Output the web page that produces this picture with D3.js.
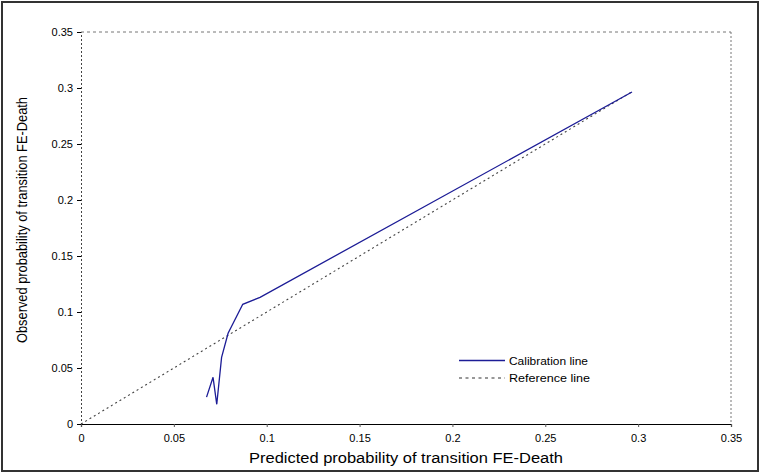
<!DOCTYPE html>
<html><head><meta charset="utf-8">
<script src="https://cdn.jsdelivr.net/npm/d3@7"></script>
<style>body{margin:0;background:#fff}svg{display:block}text{font-family:Arial,"Liberation Sans",sans-serif}</style>
</head><body><svg id="c" width="761" height="474"></svg>
<script>
const calPredicted = [0.0676, 0.0711, 0.0731, 0.0757, 0.0792, 0.0871, 0.0964, 0.2967];
const calObserved  = [0.0240, 0.0417, 0.0176, 0.0595, 0.0810, 0.1069, 0.1131, 0.2964];
const refPredicted = [0.0, 0.2967];
const refObserved  = [0.0, 0.2967];
const xTicks = [0, 0.05, 0.1, 0.15, 0.2, 0.25, 0.3, 0.35];
const yTicks = [0, 0.05, 0.1, 0.15, 0.2, 0.25, 0.3, 0.35];
const legendLabels = ["Calibration line", "Reference line"];

const svg = d3.select("#c");
const x = d3.scaleLinear().domain([0, 0.35]).range([81, 731]);
const y = d3.scaleLinear().domain([0, 0.35]).range([424, 32]);

// outer frame
svg.append("rect").attr("x",2).attr("y",2).attr("width",756).attr("height",469)
  .attr("fill","none").attr("stroke","#333").attr("stroke-width",2);

// top and right plot borders
svg.append("line").attr("x1",x(0)).attr("x2",x(0.35)).attr("y1",y(0.35)).attr("y2",y(0.35))
  .attr("stroke","#777").attr("stroke-dasharray","3,3");
svg.append("line").attr("x1",x(0.35)).attr("x2",x(0.35)).attr("y1",y(0.35)).attr("y2",y(0))
  .attr("stroke","#777").attr("stroke-dasharray","2,2");

// axes
const fmt = d => d === 0 ? "0" : String(d);
const xa = svg.append("g").attr("transform",`translate(0,${y(0)})`)
  .call(d3.axisBottom(x).tickValues(xTicks).tickFormat(fmt).tickSize(3).tickPadding(7));
xa.select(".domain").attr("stroke","#000").attr("stroke-width",1.2);
xa.selectAll("text").attr("font-size",11).attr("fill","#000");
xa.selectAll(".tick line").attr("stroke","#555");

const ya = svg.append("g").attr("transform",`translate(${x(0)},0)`)
  .call(d3.axisLeft(y).tickValues(yTicks).tickFormat(fmt).tickSize(4).tickPadding(4));
ya.select(".domain").attr("stroke","#444").attr("stroke-dasharray","2,2");
ya.selectAll("text").attr("font-size",11).attr("fill","#000");
ya.selectAll(".tick line").attr("stroke","#000");

// titles
svg.append("text").attr("x",406).attr("y",463).attr("text-anchor","middle")
  .attr("font-size",14).attr("fill","#000").attr("textLength",314).attr("lengthAdjust","spacingAndGlyphs")
  .text("Predicted probability of transition FE-Death");
svg.append("text").attr("transform","translate(27,220) rotate(-90)").attr("text-anchor","middle")
  .attr("font-size",14).attr("fill","#000").attr("textLength",246).attr("lengthAdjust","spacingAndGlyphs")
  .text("Observed probability of transition FE-Death");

// lines
const line = d3.line().x(d=>x(d[0])).y(d=>y(d[1]));
svg.append("path").datum(d3.zip(refPredicted, refObserved)).attr("d",line)
  .attr("fill","none").attr("stroke","#444").attr("stroke-width",1.1).attr("stroke-dasharray","2,3");
svg.append("path").datum(d3.zip(calPredicted, calObserved)).attr("d",line)
  .attr("fill","none").attr("stroke","#1c1c96").attr("stroke-width",1.3);

// legend
const lg = svg.append("g");
lg.append("line").attr("x1",459).attr("x2",505).attr("y1",360.5).attr("y2",360.5)
  .attr("stroke","#1c1c96").attr("stroke-width",1.3);
lg.append("line").attr("x1",459).attr("x2",505).attr("y1",378).attr("y2",378)
  .attr("stroke","#333").attr("stroke-width",1.1).attr("stroke-dasharray","3,3.5");
lg.append("text").attr("x",509).attr("y",364.5).attr("font-size",11.5).attr("fill","#000")
  .attr("textLength",79).attr("lengthAdjust","spacingAndGlyphs").text(legendLabels[0]);
lg.append("text").attr("x",509).attr("y",382).attr("font-size",11.5).attr("fill","#000")
  .attr("textLength",81).attr("lengthAdjust","spacingAndGlyphs").text(legendLabels[1]);
</script></body></html>
